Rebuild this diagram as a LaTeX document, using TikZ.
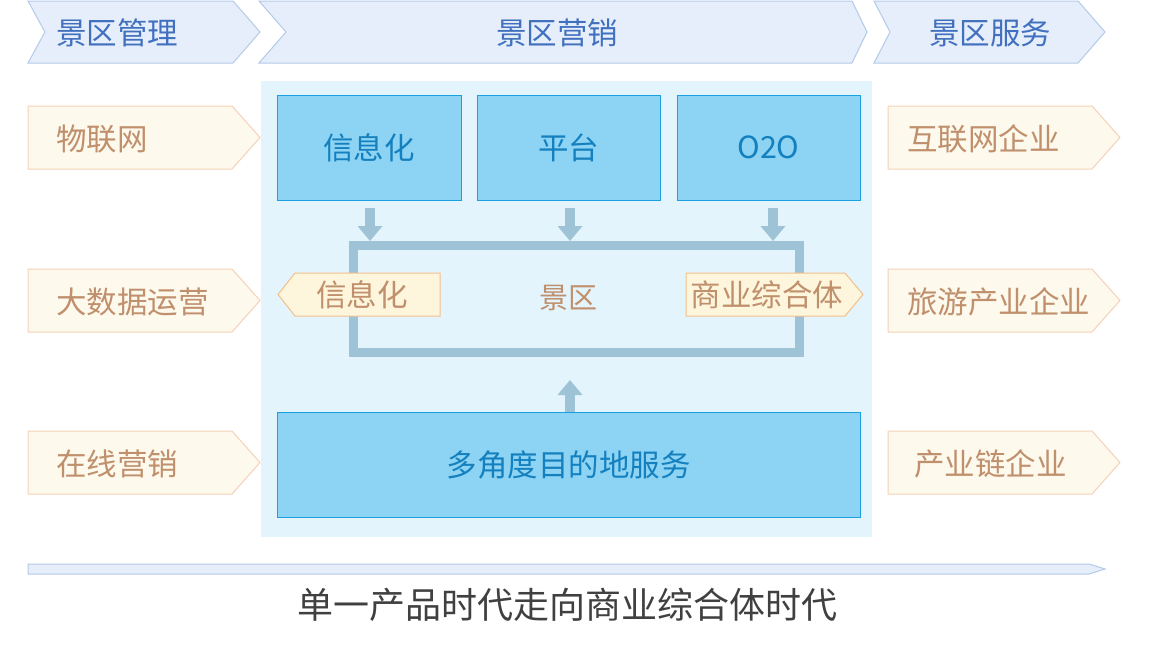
\documentclass[tikz,border=0pt]{standalone}
\usepackage{fontspec}
\setmainfont{Noto Sans CJK SC}
\usetikzlibrary{arrows.meta}
\definecolor{hdrfill}{HTML}{E5EEFA}
\definecolor{hdrline}{HTML}{B4CAE8}
\definecolor{hdrtext}{HTML}{4170BF}
\definecolor{tagfill}{HTML}{FDF9EC}
\definecolor{tagline}{HTML}{F6D2B8}
\definecolor{tagtext}{HTML}{C08F6C}
\definecolor{itagfill}{HTML}{FDF6DC}
\definecolor{itagline}{HTML}{F2BF8C}
\definecolor{panelbg}{HTML}{E3F4FC}
\definecolor{boxfill}{HTML}{8CD3F4}
\definecolor{boxline}{HTML}{1AA0E0}
\definecolor{boxtext}{HTML}{1480BE}
\definecolor{framecol}{HTML}{9EC3D6}
\definecolor{titletext}{HTML}{404040}
\tikzset{
  hdrshape/.style={fill=hdrfill, draw=hdrline, line width=1pt},
  tagshape/.style={fill=tagfill, draw=tagline, line width=1pt},
  itagshape/.style={fill=itagfill, draw=itagline, line width=1pt},
  hdrtxt/.style={text=hdrtext, font=\fontsize{30.5}{33}\selectfont, inner sep=0pt},
  tagtxt/.style={text=tagtext, font=\fontsize{30.5}{33}\selectfont, inner sep=0pt},
  bluebox/.style={fill=boxfill, draw=boxline, line width=1pt, text=boxtext,
    font=\fontsize{30.5}{33}\selectfont, inner sep=0pt},
  fat/.style={draw=framecol, line width=10pt, -{Triangle[width=24pt,length=15pt]}},
}
\begin{document}
\begin{tikzpicture}[x=1pt,y=-1pt]
\useasboundingbox (0,0) rectangle (1158,645);
\fill[white] (0,0) rectangle (1158,645);

% header chevrons
\draw[hdrshape] (28,1) -- (233,1) -- (260,32) -- (233,63) -- (28,63) -- (45,32) -- cycle;
\draw[hdrshape] (259,1) -- (852,1) -- (867,32) -- (852,63) -- (259,63) -- (286,32) -- cycle;
\draw[hdrshape] (874,1) -- (1078,1) -- (1105,32) -- (1078,63) -- (874,63) -- (890,32) -- cycle;
\node[hdrtxt, anchor=west] (h1) at (56,33) {景区管理};
\node[hdrtxt] (h2) at (557,33) {景区营销};
\node[hdrtxt] (h3) at (990,33) {景区服务};

% left tags
\draw[tagshape] (28,106) -- (232,106) -- (260,137.5) -- (232,169) -- (28,169) -- cycle;
\draw[tagshape] (28,269) -- (232,269) -- (260,300.5) -- (232,332) -- (28,332) -- cycle;
\draw[tagshape] (28,431) -- (232,431) -- (260,462.5) -- (232,494) -- (28,494) -- cycle;
\node[tagtxt, anchor=west] (l1) at (56,139) {物联网};
\node[tagtxt, anchor=west] (l2) at (56,302) {大数据运营};
\node[tagtxt, anchor=west] (l3) at (56,464) {在线营销};

% right tags
\draw[tagshape] (888,106) -- (1092,106) -- (1120,137.5) -- (1092,169) -- (888,169) -- cycle;
\draw[tagshape] (888,269) -- (1092,269) -- (1120,300.5) -- (1092,332) -- (888,332) -- cycle;
\draw[tagshape] (888,431) -- (1092,431) -- (1120,462.5) -- (1092,494) -- (888,494) -- cycle;
\node[tagtxt, anchor=west] (r1) at (907,139) {互联网企业};
\node[tagtxt, anchor=west] (r2) at (907,302) {旅游产业企业};
\node[tagtxt, anchor=west] (r3) at (914,464) {产业链企业};

% center panel
\fill[panelbg] (261,81) rectangle (872,537);

% top boxes
\node[bluebox, minimum width=184pt, minimum height=105pt] (b1) at (369,147.5) {信息化};
\node[bluebox, minimum width=183pt, minimum height=105pt] (b2) at (568.5,147.5) {平台};
\node[bluebox, minimum width=183pt, minimum height=105pt] (b3) at (768.5,147.5) {O2O};

% frame
\node[draw=framecol, line width=9pt, minimum width=446pt, minimum height=107pt,
      inner sep=0pt] (frame) at (576.5,299) {};
\node[tagtxt, font=\fontsize{29}{31}\selectfont] (jq) at (568,298) {景区};

% down arrows
\draw[fat] ([xshift=1pt,yshift=-7pt]b1.south) -- ([xshift=1pt]b1.south |- frame.north);
\draw[fat] ([xshift=1.5pt,yshift=-7pt]b2.south) -- ([xshift=1.5pt]b2.south |- frame.north);
\draw[fat] ([xshift=4.5pt,yshift=-7pt]b3.south) -- ([xshift=4.5pt]b3.south |- frame.north);

% inner tags
\draw[itagshape] (278,294.5) -- (295,273) -- (440,273) -- (440,316) -- (295,316) -- cycle;
\node[tagtxt] (t1) at (362,295) {信息化};
\draw[itagshape] (686,273) -- (845,273) -- (863,294.5) -- (845,316) -- (686,316) -- cycle;
\node[tagtxt] (t2) at (767,295) {商业综合体};

% bottom box
\node[bluebox, minimum width=583pt, minimum height=105pt] (bot) at (568.5,464.5) {多角度目的地服务};
\coordinate (uptip) at (570,380);
\draw[fat] ([xshift=1.5pt]bot.north) -- (uptip);

% bottom timeline arrow
\draw[hdrshape] (28,564) -- (1089,564) -- (1105,569) -- (1089,574) -- (28,574) -- cycle;
\node[text=titletext, font=\fontsize{36}{40}\selectfont, inner sep=0pt] (title) at (567,605) {单一产品时代走向商业综合体时代};
\end{tikzpicture}
\end{document}
